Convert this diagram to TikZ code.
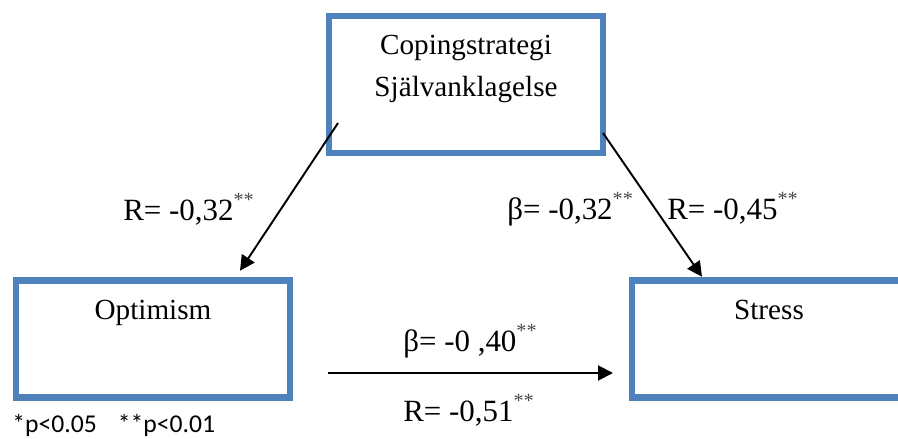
\documentclass[tikz,border=0pt]{standalone}
\usepackage{fontspec}
\setmainfont{Liberation Serif}
\newfontfamily\notefont{Carlito}
\usetikzlibrary{arrows.meta}
\definecolor{boxblue}{RGB}{79,129,189}
\newcommand{\signif}{\raisebox{0.28cm}{\fontsize{11.5}{11.5}\selectfont\color{black!72}**}}

\begin{document}
\begin{tikzpicture}[box/.style={draw=boxblue, line width=3.8pt, inner sep=0pt, outer sep=0pt, minimum width=5.48cm, text height=0.78cm, font=\fontsize{16.6}{23.9}\selectfont}, arr/.style={-{Triangle[length=0.3cm, width=0.3cm]}, line width=1.1pt}, lbl/.style={anchor=base west, inner sep=0pt, font=\fontsize{17.6}{20}\selectfont}]
	\useasboundingbox (0,0) rectangle (17.96,8.78);
	\node[box, text depth=1.96cm] (cope) at (9.32,7.09) {\begin{tabular}[t]{@{}c@{}}Copingstrategi\\Självanklagelse\end{tabular}};
	\node[box, text depth=1.55cm] (opt) at (3.06,2.0) {Optimism};
	\node[box, text depth=1.55cm] (stress) at (15.38,2.0) {Stress};
	\draw[arr] ([xshift=0.18cm, yshift=0.6cm]cope.south west) -- ([xshift=1.74cm, yshift=0.2cm]opt.north);
	\draw[arr] ([yshift=0.4cm]cope.south east) -- ([xshift=-1.34cm, yshift=0.08cm]stress.north);
	\draw[arr] ([xshift=0.76cm, yshift=-0.68cm]opt.east) -- ([xshift=-0.38cm, yshift=-0.68cm]stress.west);
	\node[lbl] (rA) at (2.46,4.36) {R= -0,32\signif};
	\node[lbl] (bB) at (10.14,4.38) {β= -0,32\signif};
	\node[lbl] (rC) at (13.34,4.38) {R= -0,45\signif};
	\node[lbl] (bD) at (8.06,1.74) {β= -0 ,40\signif};
	\node[lbl] (rE) at (8.06,0.34) {R= -0,51\signif};
	\node[lbl, font=\notefont\fontsize{14.6}{16}\selectfont] (note) at (0.24,0.13) {*p<0.05\hspace{0.42cm}**p<0.01};
\end{tikzpicture}
\end{document}
